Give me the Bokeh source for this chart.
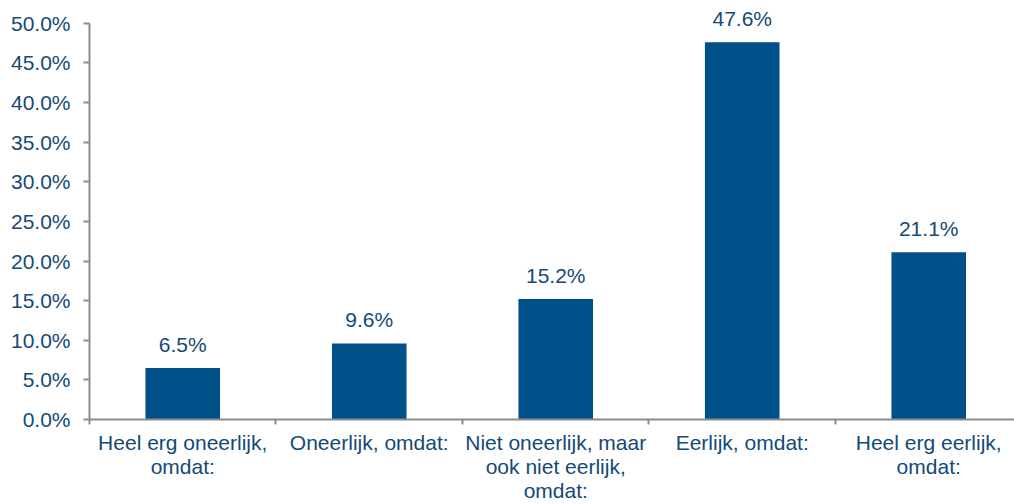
from bokeh.plotting import figure
from bokeh.models import Range1d, FixedTicker, PrintfTickFormatter, ColumnDataSource
from bokeh.embed import file_html
from bokeh.resources import INLINE
from bokeh.core.properties import value

categories = ["Heel erg oneerlijk,\nomdat:", "Oneerlijk, omdat:",
              "Niet oneerlijk, maar\nook niet eerlijk,\nomdat:", "Eerlijk, omdat:",
              "Heel erg eerlijk,\nomdat:"]
values = [6.5, 9.6, 15.2, 47.6, 21.1]
y_ticks = [0, 5, 10, 15, 20, 25, 30, 35, 40, 45, 50]

TXT = "#134A76"
BAR = "#00508A"
AX = "#8C8C8C"
FONT = "Liberation Sans"

n = len(categories)
centers = [i + 0.5 for i in range(n)]
labels = ["%.1f%%" % v for v in values]
src = ColumnDataSource(dict(x=centers, top=values, lab=labels))

p = figure(width=1014, height=504, output_backend="svg", toolbar_location=None,
           x_range=Range1d(0, 4.96), y_range=Range1d(0, 52),
           min_border_left=89, min_border_top=7, min_border_bottom=83, min_border_right=0)
p.outline_line_color = None
p.xgrid.visible = False
p.ygrid.visible = False

p.vbar(x="x", top="top", width=0.4, bottom=0, source=src, color=BAR, line_color=None)
p.text(x="x", y="top", text="lab", source=src, text_align="center", text_baseline="bottom",
       y_offset=-12, text_font=value(FONT), text_font_size="21px", text_color=TXT)

ya = p.yaxis[0]
ya.bounds = (0, 50)
ya.ticker = FixedTicker(ticks=y_ticks)
ya.formatter = PrintfTickFormatter(format="%.1f%%")
ya.axis_line_color = AX
ya.axis_line_width = 2
ya.major_tick_line_color = AX
ya.major_tick_line_width = 2
ya.major_tick_out = 6
ya.major_tick_in = 0
ya.minor_tick_line_color = None
ya.major_label_text_font = FONT
ya.major_label_text_font_size = "21px"
ya.major_label_text_color = TXT
ya.major_label_standoff = 13

xa = p.xaxis[0]
xa.ticker = FixedTicker(ticks=centers, minor_ticks=list(range(n + 1)))
xa.major_label_overrides = {c: lab for c, lab in zip(centers, categories)}
xa.axis_line_color = AX
xa.axis_line_width = 2
xa.major_tick_line_color = None
xa.major_tick_out = 5
xa.major_tick_in = 0
xa.minor_tick_line_color = AX
xa.minor_tick_line_width = 2
xa.minor_tick_out = 5
xa.minor_tick_in = 0
xa.major_label_text_font = FONT
xa.major_label_text_font_size = "21px"
xa.major_label_text_color = TXT
xa.major_label_text_line_height = 1.05
xa.major_label_standoff = 6

open("out.html", "w").write(file_html(p, INLINE))
